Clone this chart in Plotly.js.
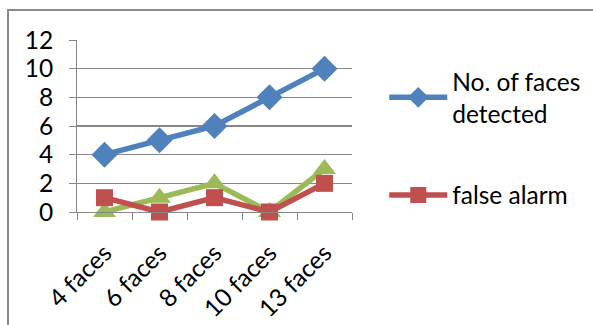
<!DOCTYPE html>
<html>
<head>
<meta charset="utf-8">
<script src="https://cdn.plot.ly/plotly-3.0.1.min.js"></script>
<style>
html,body{margin:0;padding:0;background:#fff;}
#wrap{position:relative;width:593px;height:325px;overflow:hidden;}
#chart{position:absolute;left:0;top:0;width:593px;height:325px;}
#frame{position:absolute;left:7px;top:9px;width:700px;height:400px;border-left:2px solid #8a8a8a;border-top:2px solid #8a8a8a;pointer-events:none;}
</style>
</head>
<body>
<div id="wrap">
<div id="chart"></div>
<div id="frame"></div>
</div>
<script>
const categories = ["4 faces", "6 faces", "8 faces", "10 faces", "13 faces"];
const facesDetected = [4, 5, 6, 8, 10];
const falseAlarm = [1, 0, 1, 0, 2];
const thirdSeries = [0, 1, 2, 0, 3];
const yTicks = [0, 2, 4, 6, 8, 10, 12];

const font = "Lato, 'Open Sans', sans-serif";
const fs = 24.5;

const traces = [
  {
    x: categories, y: thirdSeries, type: 'scatter', mode: 'lines+markers',
    name: 'Series 3', showlegend: false, cliponaxis: false,
    line: {color: '#9BBB59', width: 5.5},
    marker: {symbol: 'triangle-up', size: 20, color: '#9BBB59'}
  },
  {
    x: categories, y: falseAlarm, type: 'scatter', mode: 'lines+markers',
    name: 'false alarm', legend: 'legend2', cliponaxis: false,
    line: {color: '#C0504D', width: 5.5},
    marker: {symbol: 'square', size: 17, color: '#C0504D'}
  },
  {
    x: categories, y: facesDetected, type: 'scatter', mode: 'lines+markers',
    name: 'No. of faces<br>detected', legend: 'legend', cliponaxis: false,
    line: {color: '#4F81BD', width: 5.5},
    marker: {symbol: 'diamond', size: 20, color: '#4F81BD'}
  }
];

const layout = {
  width: 593, height: 325,
  margin: {l: 77, r: 241, t: 40, b: 113},
  paper_bgcolor: '#fff', plot_bgcolor: '#fff',
  font: {family: font, size: fs, color: '#000'},
  showlegend: true,
  xaxis: {
    type: 'category', range: [-0.5, 4.5],
    showline: true, linecolor: '#868686', linewidth: 1,
    showgrid: false, zeroline: false,
    ticks: 'outside', tickson: 'boundaries', ticklen: 7, tickcolor: '#868686',
    tickangle: -45, ticklabelstandoff: 16,
    tickfont: {family: font, size: fs, color: '#000'}
  },
  yaxis: {
    range: [0, 12], tickvals: yTicks,
    showline: true, linecolor: '#868686', linewidth: 1,
    showgrid: true, gridcolor: '#868686', gridwidth: 1.2,
    zeroline: false,
    ticks: 'outside', ticklen: 7, tickcolor: '#868686',
    ticklabelstandoff: 11,
    tickfont: {family: font, size: fs, color: '#000'}
  },
  legend: {
    xref: 'container', yref: 'container',
    x: 0.648, y: 0.70, xanchor: 'left', yanchor: 'middle',
    bgcolor: 'rgba(0,0,0,0)', borderwidth: 0,
    font: {family: font, size: fs, color: '#000'},
    itemwidth: 58
  },
  legend2: {
    xref: 'container', yref: 'container',
    x: 0.648, y: 0.40, xanchor: 'left', yanchor: 'middle',
    bgcolor: 'rgba(0,0,0,0)', borderwidth: 0,
    font: {family: font, size: fs, color: '#000'},
    itemwidth: 58
  }
};

Plotly.newPlot('chart', traces, layout, {displayModeBar: false, staticPlot: true});
</script>
</body>
</html>
